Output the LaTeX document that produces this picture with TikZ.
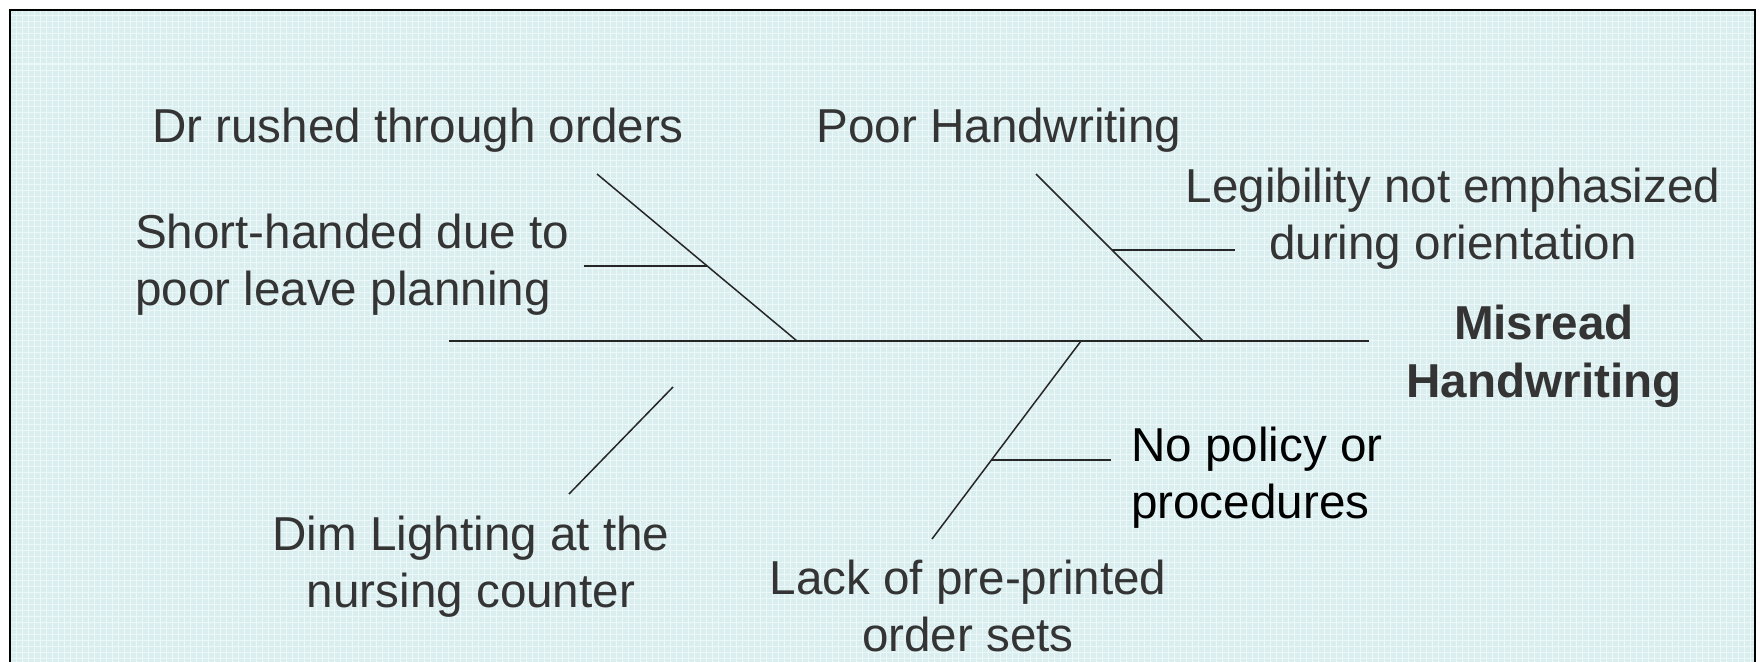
\documentclass[tikz,border=0pt]{standalone}
\usepackage{fontspec}
\setmainfont{Liberation Sans}
\definecolor{bgc}{RGB}{218,238,240}
\definecolor{gridc}{RGB}{236,247,248}
\definecolor{txt}{RGB}{52,52,52}
\begin{document}
\begin{tikzpicture}[x=1pt,y=-1pt,
  lbl/.style={inner sep=0pt, text=txt, font=\fontsize{47.6}{57}\selectfont},
  bone/.style={line width=1.5pt, draw=black!85}]
\useasboundingbox (0,0) rectangle (1760,661);
\fill[white] (0,0) rectangle (1760,661);
\begin{scope}
\clip (0,0) rectangle (1760,661);
\fill[bgc] (10,10) rectangle (1755,680);
\begin{scope}
\clip (10,10) rectangle (1755,680);
\foreach \i in {0,...,290} {
  \draw[gridc, line width=1pt] (10+\i*6,10) -- (10+\i*6,680);
}
\foreach \j in {0,...,112} {
  \draw[gridc, line width=1pt] (10,10+\j*6) -- (1755,10+\j*6);
}
\end{scope}
\draw[line width=2pt] (10,680) -- (10,10) -- (1755,10) -- (1755,680);
\end{scope}

% labels
\node[lbl] (dr) at (418,130) {Dr rushed through orders};
\node[lbl] (poor) at (999,130) {Poor Handwriting};
\node[lbl, align=center] (leg) at (1453,219) {Legibility not emphasized\\during orientation};
\node[lbl, align=left, anchor=west] (short) at (135,265) {Short-handed due to\\poor leave planning};
\node[lbl, align=center, font=\fontsize{47.6}{58}\selectfont\bfseries] (head) at (1544,356) {Misread\\Handwriting};
\node[lbl, align=left, anchor=west, text=black] (nopol) at (1131,478) {No policy or\\procedures};
\node[lbl, align=center] (dim) at (471,567) {Dim Lighting at the\\nursing counter};
\node[lbl, align=center] (lack) at (968,606) {Lack of pre-printed\\order sets};

% skeleton
\coordinate (spL) at (449,341);
\coordinate (spR) at (1369,341);
\coordinate (j1) at (797,341);
\coordinate (t1) at (597,174);
\coordinate (k1) at (707,266);
\coordinate (e1) at (584,266);
\coordinate (j2) at (1203,341);
\coordinate (t2) at (1036,174);
\coordinate (k2) at (1112,250);
\coordinate (e2) at (1235,250);
\coordinate (j3) at (1081,341);
\coordinate (t3) at (932,539);
\coordinate (k3) at (991,460);
\coordinate (e3) at (1111,460);
\coordinate (d1) at (673,387);
\coordinate (d2) at (569,494);

\draw[bone] (spL) -- (spR);
\draw[bone] (t1) -- (j1);
\draw[bone] (e1) -- (k1);
\draw[bone] (t2) -- (j2);
\draw[bone] (k2) -- (e2);
\draw[bone] (j3) -- (t3);
\draw[bone] (k3) -- (e3);
\draw[bone] (d1) -- (d2);
\end{tikzpicture}
\end{document}
